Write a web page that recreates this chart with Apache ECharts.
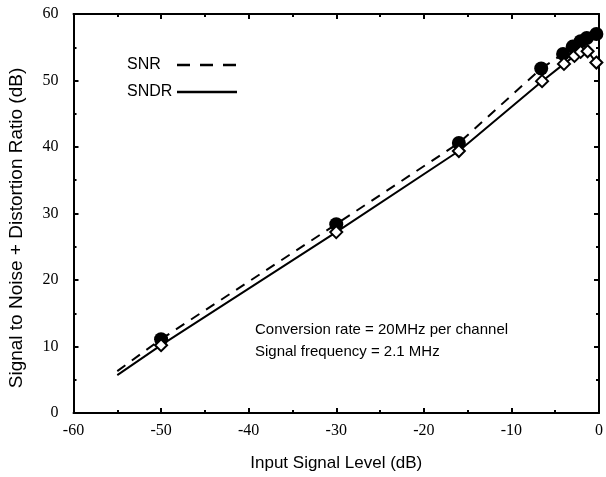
<!DOCTYPE html>
<html>
<head>
<meta charset="utf-8">
<script src="https://cdn.jsdelivr.net/npm/echarts@6/dist/echarts.min.js"></script>
<style>html,body{margin:0;padding:0;background:#fff}#c{width:606px;height:477px}</style>
</head>
<body>
<div id="c"></div>
<script>
// Input signal levels (dB) of the measured points
const inputLevels = [-50, -30, -16, -6.6, -4.1, -3.0, -2.1, -1.4, -0.3];
// SNR measured (dB) - filled circles
const snrValues = [11.1, 28.4, 40.6, 51.8, 54.0, 55.1, 55.9, 56.4, 57.0];
// SNDR input levels and values (dB) - open diamonds
const sndrLevels = [-50, -30, -16, -6.5, -4.0, -2.8, -2.1, -1.3, -0.3];
const sndrValues = [10.2, 27.2, 39.4, 49.9, 52.5, 53.7, 54.3, 54.4, 52.7];
// start points of the trend lines
const snrLineStart = [-55, 6.3];
const sndrLineStart = [-55, 5.7];
const xTicks = [-60, -50, -40, -30, -20, -10, 0];
const yTicks = [0, 10, 20, 30, 40, 50, 60];

const snrPts = inputLevels.map((x, i) => [x, snrValues[i]]);
const sndrPts = sndrLevels.map((x, i) => [x, sndrValues[i]]);

const serif = '"Liberation Serif", "DejaVu Serif", serif';
const sans = '"Liberation Sans", Arial, sans-serif';

const chart = echarts.init(document.getElementById('c'));
const baseX = {
  type: 'value', min: xTicks[0], max: xTicks[xTicks.length - 1], interval: 10,
  axisLine: { show: true, onZero: false, lineStyle: { color: '#000', width: 2 } },
  axisTick: { show: true, inside: true, length: 5, lineStyle: { color: '#000', width: 2 } },
  minorTick: { show: true, splitNumber: 2, length: 3, lineStyle: { color: '#000', width: 2 } },
  splitLine: { show: false }
};
const baseY = {
  type: 'value', min: yTicks[0], max: yTicks[yTicks.length - 1], interval: 10,
  axisLine: { show: true, onZero: false, lineStyle: { color: '#000', width: 2 } },
  axisTick: { show: true, inside: true, length: 5, lineStyle: { color: '#000', width: 2 } },
  minorTick: { show: true, splitNumber: 2, length: 3, lineStyle: { color: '#000', width: 2 } },
  splitLine: { show: false }
};
chart.setOption({
  animation: false,
  backgroundColor: '#fff',
  grid: { left: 73.5, right: 5, top: 14, bottom: 64 },
  legend: {
    data: [
      { name: 'SNR', lineStyle: { width: 2.5, type: [13, 10] } },
      { name: 'SNDR', lineStyle: { width: 2.5, type: 'solid' } }
    ],
    orient: 'vertical', left: 122, top: 52, align: 'right',
    itemWidth: 60, itemHeight: 14, itemGap: 11,
    itemStyle: { opacity: 0 },
    formatter: name => '{t|' + name + '}',
    textStyle: { fontFamily: sans, fontSize: 16, color: '#000', padding: [0, -3, 0, 0],
      rich: { t: { width: 48, align: 'left', fontFamily: sans, fontSize: 16, color: '#000' } } }
  },
  xAxis: [
    Object.assign({}, baseX, {
      position: 'bottom', name: 'Input Signal Level (dB)', nameLocation: 'middle', nameGap: 42,
      nameTextStyle: { fontFamily: sans, fontSize: 17, color: '#000' },
      axisLabel: { fontFamily: serif, fontSize: 16, color: '#000', margin: 10 }
    }),
    Object.assign({}, baseX, { position: 'top', axisLabel: { show: false } })
  ],
  yAxis: [
    Object.assign({}, baseY, {
      position: 'left',
      axisLabel: { fontFamily: serif, fontSize: 16, color: '#000', margin: 15 }
    }),
    Object.assign({}, baseY, { position: 'right', axisLabel: { show: false } })
  ],
  graphic: [
    { type: 'text', x: 17, y: 228, rotation: Math.PI / 2,
      style: { text: 'Signal to Noise + Distortion Ratio (dB)', font: '19px ' + sans, fill: '#000',
               align: 'center', verticalAlign: 'middle' } },
    { type: 'text', left: 255, top: 322, style: { text: 'Conversion rate = 20MHz per channel', font: '15px ' + sans, fill: '#000' } },
    { type: 'text', left: 255, top: 344, style: { text: 'Signal frequency = 2.1 MHz', font: '15px ' + sans, fill: '#000' } }
  ],
  series: [
    { name: 'SNR', type: 'line', symbol: 'none', data: [snrLineStart].concat(snrPts), z: 2,
      lineStyle: { color: '#000', width: 2, type: [10, 8] }, itemStyle: { color: '#000' } },
    { name: 'SNDR', type: 'line', symbol: 'none', data: [sndrLineStart].concat(sndrPts), z: 3,
      lineStyle: { color: '#000', width: 2, type: 'solid' }, itemStyle: { color: '#000' } },
    { name: 'SNR pts', type: 'scatter', data: snrPts, symbol: 'circle', symbolSize: 14, z: 4,
      itemStyle: { color: '#000', opacity: 1 } },
    { name: 'SNDR pts', type: 'scatter', data: sndrPts, symbol: 'diamond', symbolSize: 12, z: 5,
      itemStyle: { color: '#fff', borderColor: '#000', borderWidth: 2, opacity: 1 } }
  ]
});
</script>
</body>
</html>
